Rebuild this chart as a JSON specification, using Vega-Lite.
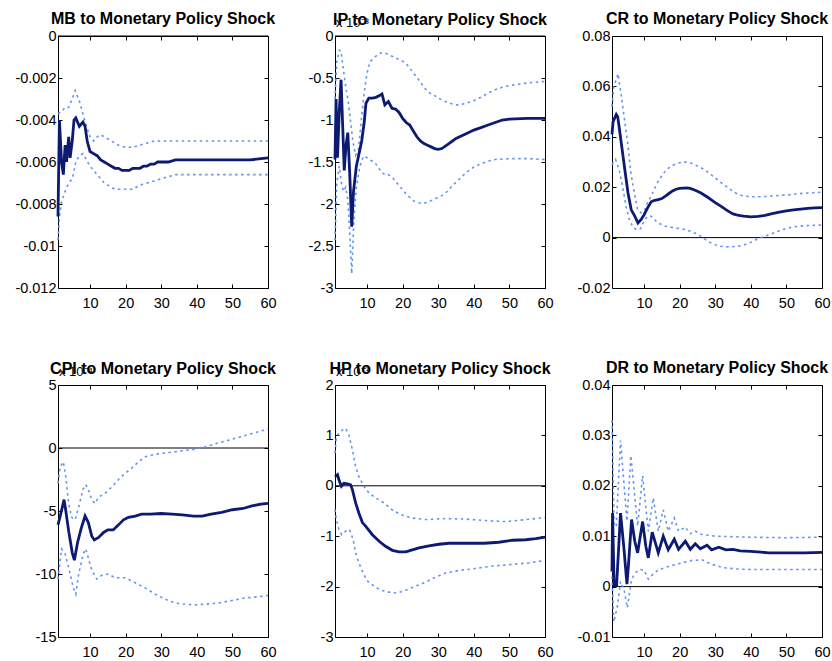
{
"$schema": "https://vega.github.io/schema/vega-lite/v6.json",
"padding": {"left": 14, "top": 10, "right": 5, "bottom": 5},
"config": {
  "view": {"stroke": "#000", "strokeWidth": 1},
  "font": "Liberation Sans",
  "locale": {"number": {"decimal": ".", "thousands": ",", "grouping": [3], "currency": ["$", ""], "minus": "-"}},
  "axis": {"grid": false, "domain": false, "ticks": true, "tickColor": "#000", "tickSize": -4, "tickWidth": 1, "labelColor": "#000", "labelFont": "Liberation Sans", "labelFontSize": 14.5, "labelPadding": 6, "labelFlush": false, "labelOverlap": false},
  "axisX": {"labelPadding": 12},
  "title": {"font": "Liberation Sans", "fontSize": 16, "fontWeight": "bold", "color": "#000", "anchor": "middle", "frame": "group", "baseline": "alphabetic", "offset": 1.5}
},
"datasets": {
  "mb_irf": [{"t":1,"v":-0.0086},{"t":1.4,"v":-0.004},{"t":2,"v":-0.006},{"t":2.5,"v":-0.0066},{"t":3,"v":-0.0052},{"t":3.4,"v":-0.006},{"t":4,"v":-0.0048},{"t":4.4,"v":-0.0058},{"t":5,"v":-0.005},{"t":5.5,"v":-0.004},{"t":6,"v":-0.0039},{"t":7,"v":-0.0043},{"t":8,"v":-0.0041},{"t":8.6,"v":-0.0043},{"t":9.2,"v":-0.005},{"t":10,"v":-0.0055},{"t":11,"v":-0.0056},{"t":12,"v":-0.0057},{"t":13,"v":-0.0059},{"t":14,"v":-0.006},{"t":15,"v":-0.0061},{"t":16,"v":-0.0062},{"t":17,"v":-0.0063},{"t":18,"v":-0.0063},{"t":19,"v":-0.0064},{"t":20,"v":-0.0064},{"t":21,"v":-0.0064},{"t":22,"v":-0.0063},{"t":23,"v":-0.0063},{"t":24,"v":-0.0063},{"t":25,"v":-0.0062},{"t":26,"v":-0.0062},{"t":27,"v":-0.0061},{"t":28,"v":-0.0061},{"t":29,"v":-0.006},{"t":30,"v":-0.006},{"t":32,"v":-0.006},{"t":34,"v":-0.0059},{"t":36,"v":-0.0059},{"t":40,"v":-0.0059},{"t":45,"v":-0.0059},{"t":50,"v":-0.0059},{"t":55,"v":-0.0059},{"t":60,"v":-0.0058}],
  "mb_up": [{"t":1,"v":-0.0037},{"t":2,"v":-0.0036},{"t":3,"v":-0.0034},{"t":4,"v":-0.0034},{"t":5,"v":-0.003},{"t":5.8,"v":-0.0026},{"t":7,"v":-0.0031},{"t":8,"v":-0.0037},{"t":9,"v":-0.0043},{"t":10,"v":-0.0048},{"t":11,"v":-0.005},{"t":12,"v":-0.0048},{"t":13,"v":-0.0047},{"t":14,"v":-0.0048},{"t":15,"v":-0.0049},{"t":16,"v":-0.005},{"t":18,"v":-0.0052},{"t":20,"v":-0.0053},{"t":22,"v":-0.0053},{"t":24,"v":-0.0052},{"t":26,"v":-0.0051},{"t":28,"v":-0.005},{"t":30,"v":-0.005},{"t":35,"v":-0.005},{"t":40,"v":-0.005},{"t":45,"v":-0.005},{"t":50,"v":-0.005},{"t":55,"v":-0.005},{"t":60,"v":-0.005}],
  "mb_lo": [{"t":1,"v":-0.0097},{"t":1.5,"v":-0.0085},{"t":2,"v":-0.0079},{"t":3,"v":-0.0074},{"t":4,"v":-0.007},{"t":5,"v":-0.0068},{"t":6,"v":-0.006},{"t":7,"v":-0.0057},{"t":8,"v":-0.0056},{"t":9,"v":-0.0059},{"t":10,"v":-0.0062},{"t":11,"v":-0.0064},{"t":12,"v":-0.0066},{"t":13,"v":-0.0068},{"t":14,"v":-0.007},{"t":15,"v":-0.0071},{"t":16,"v":-0.0072},{"t":17,"v":-0.0073},{"t":18,"v":-0.0073},{"t":20,"v":-0.0073},{"t":22,"v":-0.0073},{"t":24,"v":-0.0071},{"t":26,"v":-0.007},{"t":28,"v":-0.0069},{"t":30,"v":-0.0068},{"t":32,"v":-0.0067},{"t":34,"v":-0.0066},{"t":36,"v":-0.0066},{"t":40,"v":-0.0066},{"t":45,"v":-0.0066},{"t":50,"v":-0.0066},{"t":55,"v":-0.0066},{"t":60,"v":-0.0066}],
  "ip_irf": [{"t":1,"v":-1.47},{"t":1.3,"v":-0.75},{"t":1.7,"v":-1.45},{"t":2.2,"v":-0.9},{"t":2.7,"v":-0.52},{"t":3.1,"v":-1.0},{"t":3.6,"v":-1.6},{"t":4.1,"v":-1.3},{"t":4.6,"v":-1.15},{"t":5.1,"v":-1.6},{"t":5.7,"v":-2.27},{"t":6.2,"v":-1.85},{"t":7,"v":-1.55},{"t":8,"v":-1.35},{"t":8.5,"v":-1.25},{"t":9.2,"v":-1.03},{"t":9.7,"v":-0.8},{"t":10.5,"v":-0.74},{"t":11.5,"v":-0.74},{"t":12.5,"v":-0.73},{"t":13.5,"v":-0.71},{"t":14.2,"v":-0.69},{"t":15,"v":-0.82},{"t":16,"v":-0.78},{"t":17,"v":-0.86},{"t":18,"v":-0.87},{"t":19,"v":-0.91},{"t":20,"v":-0.98},{"t":21,"v":-1.03},{"t":22,"v":-1.06},{"t":23,"v":-1.13},{"t":24,"v":-1.2},{"t":25,"v":-1.25},{"t":26,"v":-1.28},{"t":27,"v":-1.3},{"t":28,"v":-1.32},{"t":29,"v":-1.34},{"t":30,"v":-1.35},{"t":31,"v":-1.34},{"t":32,"v":-1.31},{"t":33,"v":-1.28},{"t":34,"v":-1.25},{"t":35,"v":-1.22},{"t":36,"v":-1.2},{"t":38,"v":-1.16},{"t":40,"v":-1.12},{"t":42,"v":-1.09},{"t":44,"v":-1.06},{"t":46,"v":-1.03},{"t":48,"v":-1.0},{"t":50,"v":-0.99},{"t":55,"v":-0.98},{"t":60,"v":-0.98}],
  "ip_up": [{"t":1,"v":-0.75},{"t":1.5,"v":-0.3},{"t":2.2,"v":-0.17},{"t":2.7,"v":-0.18},{"t":3.2,"v":-0.35},{"t":4,"v":-0.6},{"t":4.6,"v":-0.75},{"t":5.2,"v":-0.95},{"t":6,"v":-1.25},{"t":6.8,"v":-1.42},{"t":7.6,"v":-1.35},{"t":8.4,"v":-1.0},{"t":9,"v":-0.75},{"t":9.6,"v":-0.55},{"t":10.3,"v":-0.38},{"t":11,"v":-0.3},{"t":12,"v":-0.26},{"t":13,"v":-0.22},{"t":14,"v":-0.2},{"t":15,"v":-0.2},{"t":16,"v":-0.22},{"t":17,"v":-0.24},{"t":18,"v":-0.26},{"t":19,"v":-0.28},{"t":20,"v":-0.3},{"t":21,"v":-0.33},{"t":22,"v":-0.38},{"t":23,"v":-0.44},{"t":24,"v":-0.49},{"t":25,"v":-0.55},{"t":26,"v":-0.61},{"t":27,"v":-0.66},{"t":28,"v":-0.69},{"t":29,"v":-0.71},{"t":30,"v":-0.74},{"t":32,"v":-0.78},{"t":34,"v":-0.81},{"t":35,"v":-0.82},{"t":36,"v":-0.82},{"t":38,"v":-0.8},{"t":40,"v":-0.77},{"t":42,"v":-0.73},{"t":44,"v":-0.68},{"t":46,"v":-0.64},{"t":48,"v":-0.61},{"t":50,"v":-0.59},{"t":55,"v":-0.56},{"t":60,"v":-0.54}],
  "ip_lo": [{"t":1,"v":-2.43},{"t":1.5,"v":-1.75},{"t":2.2,"v":-1.55},{"t":2.8,"v":-1.75},{"t":3.4,"v":-1.85},{"t":4,"v":-1.8},{"t":4.6,"v":-1.95},{"t":5.2,"v":-2.4},{"t":5.7,"v":-2.83},{"t":6.3,"v":-2.2},{"t":7,"v":-1.8},{"t":8,"v":-1.55},{"t":9,"v":-1.43},{"t":10,"v":-1.45},{"t":11,"v":-1.48},{"t":12,"v":-1.5},{"t":13,"v":-1.55},{"t":14,"v":-1.62},{"t":15,"v":-1.65},{"t":16,"v":-1.65},{"t":17,"v":-1.68},{"t":18,"v":-1.73},{"t":19,"v":-1.78},{"t":20,"v":-1.83},{"t":21,"v":-1.88},{"t":22,"v":-1.92},{"t":23,"v":-1.96},{"t":24,"v":-1.98},{"t":25,"v":-1.99},{"t":26,"v":-1.99},{"t":27,"v":-1.98},{"t":28,"v":-1.96},{"t":29,"v":-1.94},{"t":30,"v":-1.92},{"t":31,"v":-1.9},{"t":32,"v":-1.87},{"t":33,"v":-1.83},{"t":34,"v":-1.78},{"t":35,"v":-1.74},{"t":36,"v":-1.7},{"t":38,"v":-1.62},{"t":40,"v":-1.56},{"t":42,"v":-1.52},{"t":44,"v":-1.49},{"t":46,"v":-1.47},{"t":50,"v":-1.46},{"t":55,"v":-1.46},{"t":60,"v":-1.47}],
  "cr_irf": [{"t":1,"v":0.041},{"t":1.3,"v":0.046},{"t":2.2,"v":0.0489},{"t":2.6,"v":0.048},{"t":3,"v":0.044},{"t":3.6,"v":0.0376},{"t":4.5,"v":0.028},{"t":5.5,"v":0.0177},{"t":6.4,"v":0.011},{"t":7.4,"v":0.0085},{"t":8.3,"v":0.0058},{"t":9.2,"v":0.0072},{"t":10,"v":0.009},{"t":11,"v":0.0118},{"t":12,"v":0.0142},{"t":13,"v":0.0148},{"t":14,"v":0.0151},{"t":15,"v":0.0155},{"t":16,"v":0.0165},{"t":17,"v":0.0175},{"t":18,"v":0.0185},{"t":19,"v":0.0192},{"t":20,"v":0.0195},{"t":21,"v":0.0196},{"t":22,"v":0.0197},{"t":23,"v":0.0195},{"t":24,"v":0.019},{"t":25,"v":0.0184},{"t":26,"v":0.0177},{"t":27,"v":0.0168},{"t":28,"v":0.0159},{"t":29,"v":0.0149},{"t":30,"v":0.0139},{"t":31,"v":0.013},{"t":32,"v":0.0121},{"t":33,"v":0.0111},{"t":34,"v":0.0102},{"t":35,"v":0.0094},{"t":36,"v":0.009},{"t":37,"v":0.0087},{"t":38,"v":0.0085},{"t":40,"v":0.0082},{"t":42,"v":0.0084},{"t":44,"v":0.0088},{"t":46,"v":0.0095},{"t":48,"v":0.0101},{"t":50,"v":0.0106},{"t":52,"v":0.011},{"t":54,"v":0.0113},{"t":56,"v":0.0116},{"t":58,"v":0.0118},{"t":60,"v":0.0119}],
  "cr_up": [{"t":1,"v":0.052},{"t":1.5,"v":0.06},{"t":2.2,"v":0.0628},{"t":2.7,"v":0.065},{"t":3.5,"v":0.0575},{"t":4.4,"v":0.048},{"t":5.4,"v":0.0376},{"t":6.3,"v":0.0257},{"t":7.3,"v":0.0177},{"t":8.2,"v":0.011},{"t":9.2,"v":0.0098},{"t":10.2,"v":0.011},{"t":11,"v":0.014},{"t":12,"v":0.0164},{"t":13,"v":0.0195},{"t":14,"v":0.0224},{"t":15,"v":0.0245},{"t":16,"v":0.0264},{"t":17,"v":0.0277},{"t":18,"v":0.0287},{"t":20,"v":0.0297},{"t":21.5,"v":0.03},{"t":23,"v":0.0297},{"t":24,"v":0.029},{"t":25,"v":0.0284},{"t":26,"v":0.0277},{"t":27,"v":0.027},{"t":28,"v":0.0259},{"t":29,"v":0.0248},{"t":30,"v":0.0237},{"t":31,"v":0.0226},{"t":32,"v":0.0214},{"t":33,"v":0.0204},{"t":34,"v":0.0194},{"t":35,"v":0.0183},{"t":36,"v":0.0175},{"t":37,"v":0.0169},{"t":38,"v":0.0165},{"t":40,"v":0.0162},{"t":42,"v":0.0162},{"t":44,"v":0.0163},{"t":46,"v":0.0165},{"t":50,"v":0.0169},{"t":55,"v":0.0176},{"t":60,"v":0.018}],
  "cr_lo": [{"t":1,"v":0.029},{"t":2,"v":0.031},{"t":3,"v":0.027},{"t":4,"v":0.02},{"t":5,"v":0.012},{"t":6,"v":0.0065},{"t":7,"v":0.004},{"t":8,"v":0.003},{"t":9,"v":0.0035},{"t":10,"v":0.0065},{"t":11,"v":0.0085},{"t":12,"v":0.0085},{"t":13,"v":0.007},{"t":14,"v":0.0058},{"t":16,"v":0.0045},{"t":19,"v":0.0038},{"t":21.5,"v":0.0032},{"t":23,"v":0.0025},{"t":25.3,"v":0.0012},{"t":28,"v":-0.0015},{"t":30,"v":-0.0028},{"t":31,"v":-0.0034},{"t":34,"v":-0.0037},{"t":36,"v":-0.0035},{"t":38,"v":-0.003},{"t":40,"v":-0.0019},{"t":42,"v":-0.0004},{"t":44,"v":0.0006},{"t":46,"v":0.0016},{"t":48,"v":0.0027},{"t":50,"v":0.0036},{"t":52,"v":0.0043},{"t":55,"v":0.0047},{"t":60,"v":0.005}],
  "cpi_irf": [{"t":1,"v":-6.1},{"t":1.8,"v":-5.2},{"t":2.7,"v":-4.1},{"t":3.2,"v":-5.0},{"t":4,"v":-6.6},{"t":5,"v":-8.3},{"t":5.6,"v":-8.9},{"t":6.5,"v":-7.5},{"t":7.5,"v":-6.4},{"t":8.6,"v":-5.4},{"t":9.5,"v":-5.9},{"t":10.5,"v":-7.0},{"t":11.2,"v":-7.3},{"t":12.4,"v":-7.1},{"t":13.8,"v":-6.7},{"t":15,"v":-6.5},{"t":16.5,"v":-6.5},{"t":18,"v":-6.1},{"t":19.4,"v":-5.7},{"t":20.8,"v":-5.5},{"t":22.7,"v":-5.4},{"t":24.5,"v":-5.25},{"t":27,"v":-5.25},{"t":30,"v":-5.2},{"t":33,"v":-5.25},{"t":36,"v":-5.3},{"t":39,"v":-5.4},{"t":41.5,"v":-5.4},{"t":44,"v":-5.25},{"t":47,"v":-5.1},{"t":50,"v":-4.9},{"t":53,"v":-4.8},{"t":55.5,"v":-4.6},{"t":58,"v":-4.45},{"t":60,"v":-4.4}],
  "cpi_up": [{"t":1,"v":-2.8},{"t":1.6,"v":-1.5},{"t":2.5,"v":-1.1},{"t":3.2,"v":-2.3},{"t":4,"v":-4.4},{"t":4.8,"v":-5.5},{"t":5.8,"v":-5.7},{"t":6.8,"v":-4.7},{"t":8,"v":-3.3},{"t":8.8,"v":-2.9},{"t":9.5,"v":-3.3},{"t":10.5,"v":-4.1},{"t":11.4,"v":-4.4},{"t":12.4,"v":-3.9},{"t":14.2,"v":-3.6},{"t":16.1,"v":-3.1},{"t":18,"v":-2.5},{"t":19.9,"v":-2.0},{"t":21.7,"v":-1.6},{"t":23.6,"v":-1.1},{"t":25.5,"v":-0.7},{"t":28.3,"v":-0.5},{"t":31,"v":-0.4},{"t":34,"v":-0.3},{"t":36.7,"v":-0.2},{"t":39.6,"v":-0.1},{"t":42.4,"v":0.1},{"t":46,"v":0.4},{"t":50,"v":0.7},{"t":53.6,"v":1.0},{"t":57.4,"v":1.3},{"t":60,"v":1.5}],
  "cpi_lo": [{"t":1,"v":-10.4},{"t":2,"v":-8.0},{"t":3,"v":-8.4},{"t":4,"v":-9.5},{"t":5.3,"v":-11.1},{"t":6,"v":-11.6},{"t":6.8,"v":-10.0},{"t":8.1,"v":-8.4},{"t":8.8,"v":-8.0},{"t":9.7,"v":-8.9},{"t":10.5,"v":-9.7},{"t":11.9,"v":-10.4},{"t":13.3,"v":-10.1},{"t":15.2,"v":-10.0},{"t":17,"v":-10.3},{"t":19.9,"v":-10.3},{"t":22.7,"v":-10.7},{"t":25.5,"v":-11.1},{"t":28.3,"v":-11.6},{"t":31.1,"v":-12.0},{"t":33.9,"v":-12.3},{"t":36.7,"v":-12.4},{"t":39.6,"v":-12.45},{"t":42.4,"v":-12.4},{"t":46.1,"v":-12.3},{"t":49.9,"v":-12.1},{"t":53.6,"v":-11.9},{"t":57.4,"v":-11.8},{"t":60,"v":-11.7}],
  "hp_irf": [{"t":1,"v":0.18},{"t":1.7,"v":0.22},{"t":2.1,"v":0.12},{"t":2.8,"v":-0.01},{"t":3.5,"v":0.05},{"t":4.5,"v":0.04},{"t":5.4,"v":0.02},{"t":5.9,"v":-0.08},{"t":6.8,"v":-0.34},{"t":7.7,"v":-0.54},{"t":8.7,"v":-0.73},{"t":9.6,"v":-0.8},{"t":11.5,"v":-0.97},{"t":13.4,"v":-1.1},{"t":15.2,"v":-1.2},{"t":17.1,"v":-1.28},{"t":19,"v":-1.31},{"t":20.9,"v":-1.31},{"t":22.7,"v":-1.27},{"t":24.6,"v":-1.23},{"t":27.4,"v":-1.19},{"t":30.2,"v":-1.16},{"t":33,"v":-1.14},{"t":36,"v":-1.14},{"t":40,"v":-1.14},{"t":43,"v":-1.14},{"t":47,"v":-1.12},{"t":51,"v":-1.08},{"t":54.6,"v":-1.07},{"t":57.4,"v":-1.05},{"t":60,"v":-1.02}],
  "hp_up": [{"t":1,"v":0.65},{"t":1.4,"v":0.98},{"t":2.1,"v":1.04},{"t":3.1,"v":1.11},{"t":4,"v":1.14},{"t":4.9,"v":1.01},{"t":5.9,"v":0.71},{"t":6.8,"v":0.38},{"t":7.7,"v":0.18},{"t":9.1,"v":-0.01},{"t":10.6,"v":-0.15},{"t":12.4,"v":-0.24},{"t":14.8,"v":-0.34},{"t":17.1,"v":-0.48},{"t":19.4,"v":-0.57},{"t":22.7,"v":-0.64},{"t":26.5,"v":-0.67},{"t":32,"v":-0.65},{"t":37.7,"v":-0.66},{"t":43.3,"v":-0.69},{"t":48.9,"v":-0.71},{"t":54.6,"v":-0.67},{"t":60,"v":-0.63}],
  "hp_lo": [{"t":1,"v":-0.47},{"t":1.4,"v":-0.67},{"t":2.1,"v":-0.87},{"t":2.9,"v":-0.97},{"t":4,"v":-0.9},{"t":5.1,"v":-0.87},{"t":6.1,"v":-1.07},{"t":6.8,"v":-1.33},{"t":7.7,"v":-1.53},{"t":8.9,"v":-1.73},{"t":10.1,"v":-1.89},{"t":12,"v":-1.99},{"t":13.8,"v":-2.07},{"t":16.2,"v":-2.11},{"t":18.5,"v":-2.13},{"t":20.9,"v":-2.07},{"t":23.7,"v":-1.99},{"t":26.5,"v":-1.91},{"t":29.3,"v":-1.81},{"t":32.1,"v":-1.73},{"t":35.8,"v":-1.68},{"t":39.6,"v":-1.65},{"t":43.3,"v":-1.61},{"t":47.1,"v":-1.58},{"t":50.8,"v":-1.56},{"t":55.5,"v":-1.53},{"t":60,"v":-1.48}],
  "dr_irf": [{"t":1,"v":0.003},{"t":1.15,"v":0.0146},{"t":1.6,"v":0.0003},{"t":2.3,"v":0.0003},{"t":3.4,"v":0.0146},{"t":4.3,"v":0.008},{"t":5.2,"v":0.0005},{"t":5.6,"v":0.004},{"t":6.5,"v":0.0133},{"t":7.4,"v":0.009},{"t":8.2,"v":0.0067},{"t":9.6,"v":0.0129},{"t":10.5,"v":0.008},{"t":11.2,"v":0.0057},{"t":12.3,"v":0.0108},{"t":14,"v":0.0067},{"t":15.4,"v":0.01},{"t":16.8,"v":0.0073},{"t":18.5,"v":0.0094},{"t":19.7,"v":0.0074},{"t":21.6,"v":0.009},{"t":23,"v":0.0074},{"t":24.4,"v":0.0085},{"t":25.8,"v":0.0075},{"t":27.7,"v":0.0082},{"t":29,"v":0.0073},{"t":31,"v":0.0078},{"t":33,"v":0.0073},{"t":35,"v":0.0074},{"t":37,"v":0.0071},{"t":40,"v":0.007},{"t":45,"v":0.0067},{"t":50,"v":0.0067},{"t":55,"v":0.0067},{"t":60,"v":0.0068}],
  "dr_up": [{"t":1,"v":0.033},{"t":1.6,"v":0.012},{"t":2.2,"v":0.012},{"t":3.4,"v":0.029},{"t":5.2,"v":0.013},{"t":6.3,"v":0.026},{"t":8.2,"v":0.012},{"t":9.6,"v":0.022},{"t":11.2,"v":0.011},{"t":12.6,"v":0.0176},{"t":14,"v":0.011},{"t":15.4,"v":0.0152},{"t":16.8,"v":0.011},{"t":18.5,"v":0.0136},{"t":19.7,"v":0.011},{"t":21.6,"v":0.0118},{"t":23,"v":0.0105},{"t":24.4,"v":0.011},{"t":26,"v":0.0104},{"t":28,"v":0.0102},{"t":30,"v":0.01},{"t":35,"v":0.0099},{"t":40,"v":0.0098},{"t":50,"v":0.0097},{"t":60,"v":0.0098}],
  "dr_lo": [{"t":1,"v":0.002},{"t":1.5,"v":-0.007},{"t":2.5,"v":-0.004},{"t":3.4,"v":0.001},{"t":4.5,"v":-0.001},{"t":5.3,"v":-0.0042},{"t":6.5,"v":0.0014},{"t":7.5,"v":0.0027},{"t":8.8,"v":0.0034},{"t":10,"v":0.0033},{"t":11.2,"v":0.0015},{"t":12.6,"v":0.0025},{"t":14,"v":0.0033},{"t":16.8,"v":0.004},{"t":20.6,"v":0.0047},{"t":23.5,"v":0.0052},{"t":26.3,"v":0.0053},{"t":29.1,"v":0.0044},{"t":32,"v":0.0038},{"t":35.7,"v":0.0035},{"t":40,"v":0.0034},{"t":50,"v":0.0034},{"t":60,"v":0.0034}]
},
"columns": 3,
"bounds": "flush",
"spacing": {"row": 97, "column": 67},
"concat": [
  {"width": 210, "height": 252, "title": "MB to Monetary Policy Shock",
   "layer": [
    {"data": {"values": [{}]}, "mark": {"type": "rule", "color": "#000", "strokeWidth": 1},
     "encoding": {"x": {"datum": 1, "type": "quantitative", "scale": {"domain": [1, 60], "nice": false, "zero": false}, "axis": {"orient": "top", "values": [10,20,30,40,50,60], "labels": false, "title": null}}, "x2": {"datum": 60},
      "y": {"datum": 0, "type": "quantitative", "scale": {"domain": [-0.012, 0], "nice": false, "zero": false}, "axis": {"orient": "right", "values": [-0.012,-0.01,-0.008,-0.006,-0.004,-0.002,0], "labels": false, "title": null}}}},
    {"data": {"name": "mb_up"}, "mark": {"type": "line", "stroke": "#6394ee", "strokeWidth": 1.6, "strokeDash": [2.5, 3.5]},
     "encoding": {"x": {"field": "t", "type": "quantitative", "axis": null}, "y": {"field": "v", "type": "quantitative", "axis": null}}},
    {"data": {"name": "mb_lo"}, "mark": {"type": "line", "stroke": "#6394ee", "strokeWidth": 1.6, "strokeDash": [2.5, 3.5]},
     "encoding": {"x": {"field": "t", "type": "quantitative", "axis": null}, "y": {"field": "v", "type": "quantitative", "axis": null}}},
    {"data": {"name": "mb_irf"}, "mark": {"type": "line", "stroke": "#0c1a72", "strokeWidth": 2.8},
     "encoding": {"x": {"field": "t", "type": "quantitative", "axis": {"orient": "bottom", "values": [10,20,30,40,50,60], "title": null}},
      "y": {"field": "v", "type": "quantitative", "axis": {"orient": "left", "values": [-0.012,-0.01,-0.008,-0.006,-0.004,-0.002,0], "format": "~g", "title": null}}}}
   ],
   "resolve": {"axis": {"x": "independent", "y": "independent"}}},
  {"width": 210, "height": 252, "title": {"text": "IP to Monetary Policy Shock", "dy": 12},
   "layer": [
    {"data": {"values": [{}]}, "mark": {"type": "rule", "color": "#000", "strokeWidth": 1},
     "encoding": {"x": {"datum": 1, "type": "quantitative", "scale": {"domain": [1, 60], "nice": false, "zero": false}, "axis": {"orient": "top", "values": [10,20,30,40,50,60], "labels": false, "title": null}}, "x2": {"datum": 60},
      "y": {"datum": 0, "type": "quantitative", "scale": {"domain": [-3, 0], "nice": false, "zero": false}, "axis": {"orient": "right", "values": [-3,-2.5,-2,-1.5,-1,-0.5,0], "labels": false, "title": null}}}},
    {"data": {"name": "ip_up"}, "mark": {"type": "line", "stroke": "#6394ee", "strokeWidth": 1.6, "strokeDash": [2.5, 3.5]},
     "encoding": {"x": {"field": "t", "type": "quantitative", "axis": null}, "y": {"field": "v", "type": "quantitative", "axis": null}}},
    {"data": {"name": "ip_lo"}, "mark": {"type": "line", "stroke": "#6394ee", "strokeWidth": 1.6, "strokeDash": [2.5, 3.5]},
     "encoding": {"x": {"field": "t", "type": "quantitative", "axis": null}, "y": {"field": "v", "type": "quantitative", "axis": null}}},
    {"data": {"name": "ip_irf"}, "mark": {"type": "line", "stroke": "#0c1a72", "strokeWidth": 2.8},
     "encoding": {"x": {"field": "t", "type": "quantitative", "axis": {"orient": "bottom", "values": [10,20,30,40,50,60], "title": null}},
      "y": {"field": "v", "type": "quantitative", "axis": {"orient": "left", "values": [-3,-2.5,-2,-1.5,-1,-0.5,0], "format": "~g", "title": null}}}},
    {"data": {"values": [{"lab": "x 10⁻³"}]}, "mark": {"type": "text", "align": "left", "baseline": "alphabetic", "dx": 1, "dy": -9, "fontSize": 13, "font": "Liberation Sans", "color": "#000"},
     "encoding": {"x": {"datum": 1, "type": "quantitative", "axis": null}, "y": {"datum": 0, "type": "quantitative", "axis": null}, "text": {"field": "lab"}}}
   ],
   "resolve": {"axis": {"x": "independent", "y": "independent"}}},
  {"width": 210, "height": 252, "title": "CR to Monetary Policy Shock",
   "layer": [
    {"data": {"values": [{}]}, "mark": {"type": "rule", "color": "#000", "strokeWidth": 1},
     "encoding": {"x": {"datum": 1, "type": "quantitative", "scale": {"domain": [1, 60], "nice": false, "zero": false}, "axis": {"orient": "top", "values": [10,20,30,40,50,60], "labels": false, "title": null}}, "x2": {"datum": 60},
      "y": {"datum": 0, "type": "quantitative", "scale": {"domain": [-0.02, 0.08], "nice": false, "zero": false}, "axis": {"orient": "right", "values": [-0.02,0,0.02,0.04,0.06,0.08], "labels": false, "title": null}}}},
    {"data": {"name": "cr_up"}, "mark": {"type": "line", "stroke": "#6394ee", "strokeWidth": 1.6, "strokeDash": [2.5, 3.5]},
     "encoding": {"x": {"field": "t", "type": "quantitative", "axis": null}, "y": {"field": "v", "type": "quantitative", "axis": null}}},
    {"data": {"name": "cr_lo"}, "mark": {"type": "line", "stroke": "#6394ee", "strokeWidth": 1.6, "strokeDash": [2.5, 3.5]},
     "encoding": {"x": {"field": "t", "type": "quantitative", "axis": null}, "y": {"field": "v", "type": "quantitative", "axis": null}}},
    {"data": {"name": "cr_irf"}, "mark": {"type": "line", "stroke": "#0c1a72", "strokeWidth": 2.8},
     "encoding": {"x": {"field": "t", "type": "quantitative", "axis": {"orient": "bottom", "values": [10,20,30,40,50,60], "title": null}},
      "y": {"field": "v", "type": "quantitative", "axis": {"orient": "left", "values": [-0.02,0,0.02,0.04,0.06,0.08], "format": "~g", "title": null}}}}
   ],
   "resolve": {"axis": {"x": "independent", "y": "independent"}}},
  {"width": 210, "height": 252, "title": {"text": "CPI to Monetary Policy Shock", "dy": 12},
   "layer": [
    {"data": {"values": [{}]}, "mark": {"type": "rule", "color": "#000", "strokeWidth": 1},
     "encoding": {"x": {"datum": 1, "type": "quantitative", "scale": {"domain": [1, 60], "nice": false, "zero": false}, "axis": {"orient": "top", "values": [10,20,30,40,50,60], "labels": false, "title": null}}, "x2": {"datum": 60},
      "y": {"datum": 0, "type": "quantitative", "scale": {"domain": [-15, 5], "nice": false, "zero": false}, "axis": {"orient": "right", "values": [-15,-10,-5,0,5], "labels": false, "title": null}}}},
    {"data": {"name": "cpi_up"}, "mark": {"type": "line", "stroke": "#6394ee", "strokeWidth": 1.6, "strokeDash": [2.5, 3.5]},
     "encoding": {"x": {"field": "t", "type": "quantitative", "axis": null}, "y": {"field": "v", "type": "quantitative", "axis": null}}},
    {"data": {"name": "cpi_lo"}, "mark": {"type": "line", "stroke": "#6394ee", "strokeWidth": 1.6, "strokeDash": [2.5, 3.5]},
     "encoding": {"x": {"field": "t", "type": "quantitative", "axis": null}, "y": {"field": "v", "type": "quantitative", "axis": null}}},
    {"data": {"name": "cpi_irf"}, "mark": {"type": "line", "stroke": "#0c1a72", "strokeWidth": 2.8},
     "encoding": {"x": {"field": "t", "type": "quantitative", "axis": {"orient": "bottom", "values": [10,20,30,40,50,60], "title": null}},
      "y": {"field": "v", "type": "quantitative", "axis": {"orient": "left", "values": [-15,-10,-5,0,5], "format": "~g", "title": null}}}},
    {"data": {"values": [{"lab": "x 10⁻⁴"}]}, "mark": {"type": "text", "align": "left", "baseline": "alphabetic", "dx": 1, "dy": -9, "fontSize": 13, "font": "Liberation Sans", "color": "#000"},
     "encoding": {"x": {"datum": 1, "type": "quantitative", "axis": null}, "y": {"datum": 5, "type": "quantitative", "axis": null}, "text": {"field": "lab"}}}
   ],
   "resolve": {"axis": {"x": "independent", "y": "independent"}}},
  {"width": 210, "height": 252, "title": {"text": "HP to Monetary Policy Shock", "dy": 12},
   "layer": [
    {"data": {"values": [{}]}, "mark": {"type": "rule", "color": "#000", "strokeWidth": 1},
     "encoding": {"x": {"datum": 1, "type": "quantitative", "scale": {"domain": [1, 60], "nice": false, "zero": false}, "axis": {"orient": "top", "values": [10,20,30,40,50,60], "labels": false, "title": null}}, "x2": {"datum": 60},
      "y": {"datum": 0, "type": "quantitative", "scale": {"domain": [-3, 2], "nice": false, "zero": false}, "axis": {"orient": "right", "values": [-3,-2,-1,0,1,2], "labels": false, "title": null}}}},
    {"data": {"name": "hp_up"}, "mark": {"type": "line", "stroke": "#6394ee", "strokeWidth": 1.6, "strokeDash": [2.5, 3.5]},
     "encoding": {"x": {"field": "t", "type": "quantitative", "axis": null}, "y": {"field": "v", "type": "quantitative", "axis": null}}},
    {"data": {"name": "hp_lo"}, "mark": {"type": "line", "stroke": "#6394ee", "strokeWidth": 1.6, "strokeDash": [2.5, 3.5]},
     "encoding": {"x": {"field": "t", "type": "quantitative", "axis": null}, "y": {"field": "v", "type": "quantitative", "axis": null}}},
    {"data": {"name": "hp_irf"}, "mark": {"type": "line", "stroke": "#0c1a72", "strokeWidth": 2.8},
     "encoding": {"x": {"field": "t", "type": "quantitative", "axis": {"orient": "bottom", "values": [10,20,30,40,50,60], "title": null}},
      "y": {"field": "v", "type": "quantitative", "axis": {"orient": "left", "values": [-3,-2,-1,0,1,2], "format": "~g", "title": null}}}},
    {"data": {"values": [{"lab": "x 10⁻³"}]}, "mark": {"type": "text", "align": "left", "baseline": "alphabetic", "dx": 1, "dy": -9, "fontSize": 13, "font": "Liberation Sans", "color": "#000"},
     "encoding": {"x": {"datum": 1, "type": "quantitative", "axis": null}, "y": {"datum": 2, "type": "quantitative", "axis": null}, "text": {"field": "lab"}}}
   ],
   "resolve": {"axis": {"x": "independent", "y": "independent"}}},
  {"width": 210, "height": 252, "title": "DR to Monetary Policy Shock",
   "layer": [
    {"data": {"values": [{}]}, "mark": {"type": "rule", "color": "#000", "strokeWidth": 1},
     "encoding": {"x": {"datum": 1, "type": "quantitative", "scale": {"domain": [1, 60], "nice": false, "zero": false}, "axis": {"orient": "top", "values": [10,20,30,40,50,60], "labels": false, "title": null}}, "x2": {"datum": 60},
      "y": {"datum": 0, "type": "quantitative", "scale": {"domain": [-0.01, 0.04], "nice": false, "zero": false}, "axis": {"orient": "right", "values": [-0.01,0,0.01,0.02,0.03,0.04], "labels": false, "title": null}}}},
    {"data": {"name": "dr_up"}, "mark": {"type": "line", "stroke": "#6394ee", "strokeWidth": 1.6, "strokeDash": [2.5, 3.5]},
     "encoding": {"x": {"field": "t", "type": "quantitative", "axis": null}, "y": {"field": "v", "type": "quantitative", "axis": null}}},
    {"data": {"name": "dr_lo"}, "mark": {"type": "line", "stroke": "#6394ee", "strokeWidth": 1.6, "strokeDash": [2.5, 3.5]},
     "encoding": {"x": {"field": "t", "type": "quantitative", "axis": null}, "y": {"field": "v", "type": "quantitative", "axis": null}}},
    {"data": {"name": "dr_irf"}, "mark": {"type": "line", "stroke": "#0c1a72", "strokeWidth": 2.8},
     "encoding": {"x": {"field": "t", "type": "quantitative", "axis": {"orient": "bottom", "values": [10,20,30,40,50,60], "title": null}},
      "y": {"field": "v", "type": "quantitative", "axis": {"orient": "left", "values": [-0.01,0,0.01,0.02,0.03,0.04], "format": "~g", "title": null}}}}
   ],
   "resolve": {"axis": {"x": "independent", "y": "independent"}}}
]
}
